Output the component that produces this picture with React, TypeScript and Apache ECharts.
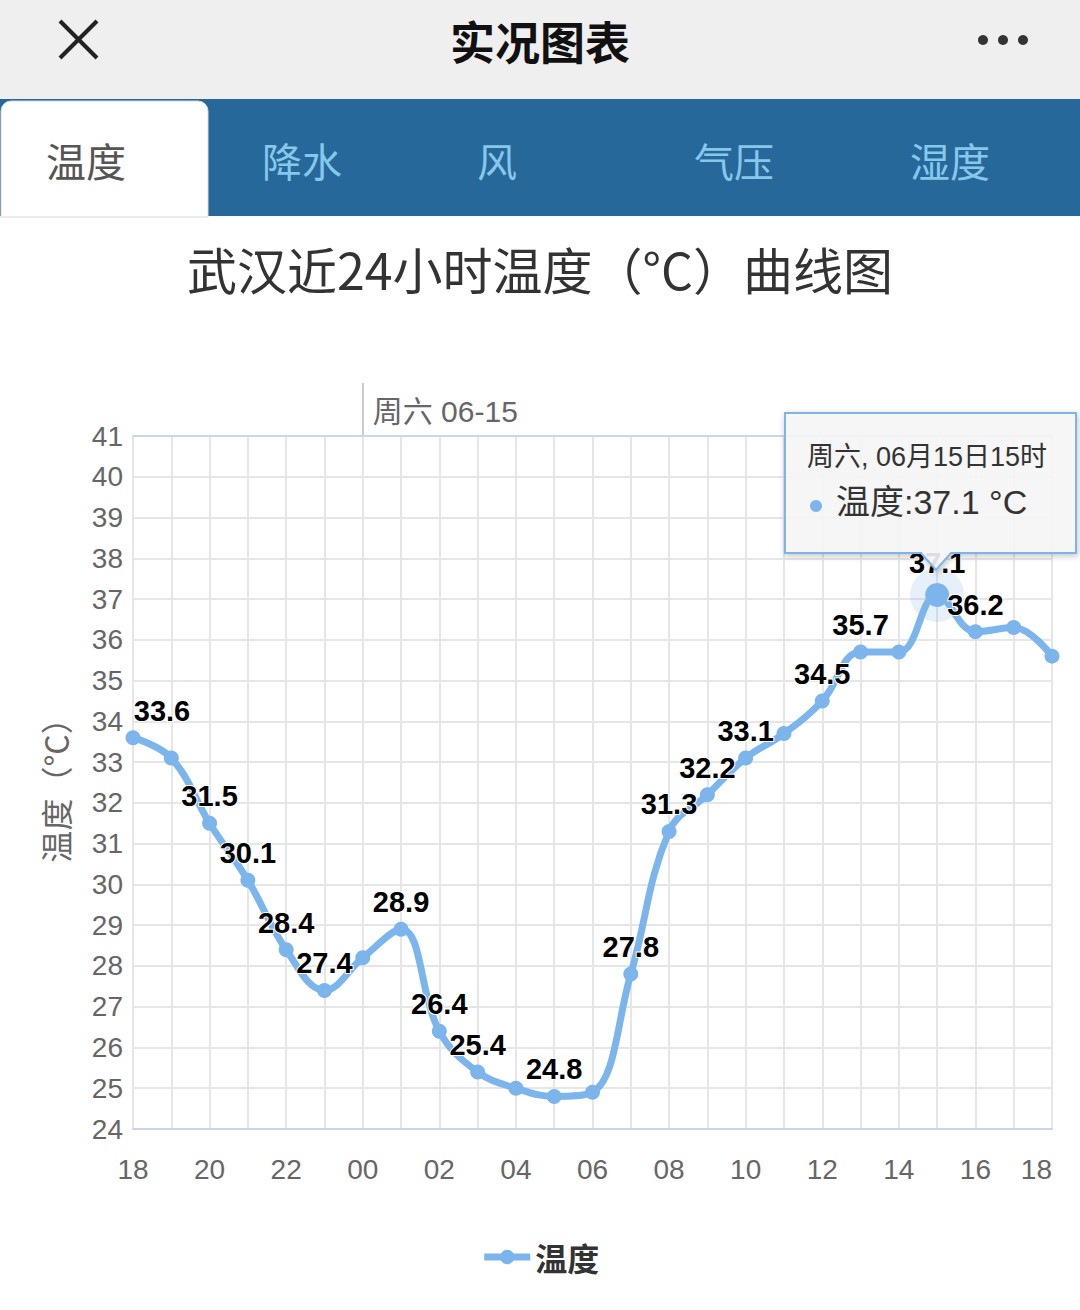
import React, { useEffect, useRef } from "react";
import * as echarts from "echarts";

const hours = ["18","19","20","21","22","23","00","01","02","03","04","05","06","07","08","09","10","11","12","13","14","15","16","17","18"];
const temps = [33.6,33.1,31.5,30.1,28.4,27.4,28.2,28.9,26.4,25.4,25.0,24.8,24.9,27.8,31.3,32.2,33.1,33.7,34.5,35.7,35.7,37.1,36.2,36.3,35.6];
const labeledIdx = [0,2,3,4,5,7,8,9,11,13,14,15,16,18,19,21,22];
const highlightIdx = 21;
const dayMarkIdx = 6;
const dayMarkLabel = "周六 06-15";
const tabs = ["温度","降水","风","气压","湿度"];
const tabX = [86,302,497,734,950];
const yTicks = { min: 24, max: 41, interval: 1 };

const FONT = "'Liberation Sans', 'Noto Sans CJK SC', sans-serif";
const CJK = "'Noto Sans CJK SC', sans-serif";

export default function App() {
  const ref = useRef<HTMLDivElement>(null);
  useEffect(() => {
    document.body.style.margin = "0";
    const chart = echarts.init(ref.current!, null, { renderer: "svg" });
    const blue = "#7cb5ec";
    const graphic: any[] = [
      { type: "rect", shape: { x: 0, y: 0, width: 1080, height: 99 }, style: { fill: "#efefef" } },
      { type: "line", shape: { x1: 60, y1: 21, x2: 97, y2: 58 }, style: { stroke: "#222", lineWidth: 4 } },
      { type: "line", shape: { x1: 97, y1: 21, x2: 60, y2: 58 }, style: { stroke: "#222", lineWidth: 4 } },
      { type: "text", x: 540, y: 40, style: { text: "实况图表", fill: "#111", font: `bold 45px ${CJK}`, align: "center", verticalAlign: "middle" } },
      { type: "circle", shape: { cx: 983, cy: 40, r: 5 }, style: { fill: "#333" } },
      { type: "circle", shape: { cx: 1003, cy: 40, r: 5 }, style: { fill: "#333" } },
      { type: "circle", shape: { cx: 1023, cy: 40, r: 5 }, style: { fill: "#333" } },
      { type: "rect", shape: { x: 0, y: 99, width: 1080, height: 117 }, style: { fill: "#27689a" } },
      { type: "rect", shape: { x: 1, y: 101, width: 207, height: 116, r: [10, 10, 0, 0] }, style: { fill: "#fff", stroke: "#d8d8d8", lineWidth: 1 } },
      ...tabs.map((t, i) => ({
        type: "text", x: tabX[i], y: 160,
        style: { text: t, fill: i === 0 ? "#555" : "#86c8ea", font: `40px ${CJK}`, align: "center", verticalAlign: "middle" },
      })),
      { type: "text", x: 540, y: 268, style: { text: "武汉近24小时温度（°C）曲线图", fill: "#333", font: `50px ${CJK}`, align: "center", verticalAlign: "middle" } },
      {
        type: "polygon",
        shape: { points: [[785, 413], [1076, 413], [1076, 553], [951, 553], [936, 570], [921, 553], [785, 553]] },
        style: { fill: "rgba(248,248,248,0.88)", stroke: blue, lineWidth: 2, shadowBlur: 6, shadowColor: "rgba(0,0,0,0.25)", shadowOffsetX: 1, shadowOffsetY: 2 },
        z: 100,
      },
      { type: "text", x: 807, y: 457, z: 101, style: { text: `周六, 06月15日${hours[highlightIdx]}时`, fill: "#333", font: `27px ${FONT}`, verticalAlign: "middle" } },
      { type: "circle", z: 101, shape: { cx: 816, cy: 506, r: 6 }, style: { fill: blue } },
      { type: "text", x: 836, y: 502, z: 101, style: { text: `温度:${temps[highlightIdx].toFixed(1)} °C`, fill: "#333", font: `34px ${FONT}`, verticalAlign: "middle" } },
    ];

    chart.setOption({
      animation: false,
      textStyle: { fontFamily: FONT },
      graphic,
      grid: { left: 133, right: 28, top: 436, bottom: 181, containLabel: false },
      legend: {
        data: ["温度"], top: 1236, left: "center", itemWidth: 46, itemHeight: 18, itemGap: 10,
        lineStyle: { width: 7 },
        textStyle: { fontSize: 32, fontWeight: "bold", color: "#333", fontFamily: CJK },
      },
      xAxis: [
        {
          type: "category", data: hours, boundaryGap: false, position: "bottom",
          axisLine: { show: true, lineStyle: { color: "#ccd6eb", width: 2 } },
          axisTick: { show: false },
          axisLabel: { interval: 1, fontSize: 28, color: "#666", margin: 26, alignMaxLabel: "right" },
          splitLine: { show: true, interval: 0, lineStyle: { color: "#e6e6e6", width: 2 } },
        },
        {
          type: "category", data: hours, boundaryGap: false, position: "top",
          axisLine: { show: true, lineStyle: { color: "#ccd6eb", width: 2 } },
          axisTick: { show: true, interval: (i: number) => i === dayMarkIdx, length: 53, lineStyle: { color: "#ccc", width: 2 } },
          axisLabel: {
            interval: (i: number) => i === dayMarkIdx, formatter: () => dayMarkLabel,
            align: "left", padding: [0, 0, 0, 10], margin: 10, fontSize: 30, color: "#666", fontFamily: FONT,
          },
          splitLine: { show: false },
        },
      ],
      yAxis: {
        type: "value", min: yTicks.min, max: yTicks.max, interval: yTicks.interval,
        name: "温度（°C）", nameLocation: "middle", nameGap: 62, nameRotate: 90,
        nameTextStyle: { fontSize: 32, color: "#666", fontFamily: CJK },
        axisLine: { show: false }, axisTick: { show: false },
        axisLabel: { fontSize: 28, color: "#666", margin: 10 },
        splitLine: { show: true, lineStyle: { color: "#e6e6e6", width: 2 } },
      },
      series: [
        {
          name: "halo", type: "scatter", silent: true, z: 1,
          data: temps.map((v, i) => (i === highlightIdx ? v : "-")),
          symbolSize: 54, itemStyle: { color: "rgba(124,181,236,0.25)" },
        },
        {
          name: "温度", type: "line", smooth: 0.4, z: 3,
          symbol: "circle", symbolSize: 15,
          lineStyle: { width: 7, color: blue }, itemStyle: { color: blue },
          label: {
            show: false, position: "top", fontSize: 29, fontWeight: "bold", color: "#000",
            textBorderColor: "#fff", textBorderWidth: 2, fontFamily: FONT,
          },
          data: temps.map((v, i) => ({
            value: v,
            symbolSize: i === highlightIdx ? 24 : 15,
            label: { show: labeledIdx.includes(i), offset: i === 0 ? [29, 0] : [0, 0] },
          })),
        },
      ],
    });
    return () => chart.dispose();
  }, []);
  return <div ref={ref} style={{ width: 1080, height: 1310 }} />;
}
